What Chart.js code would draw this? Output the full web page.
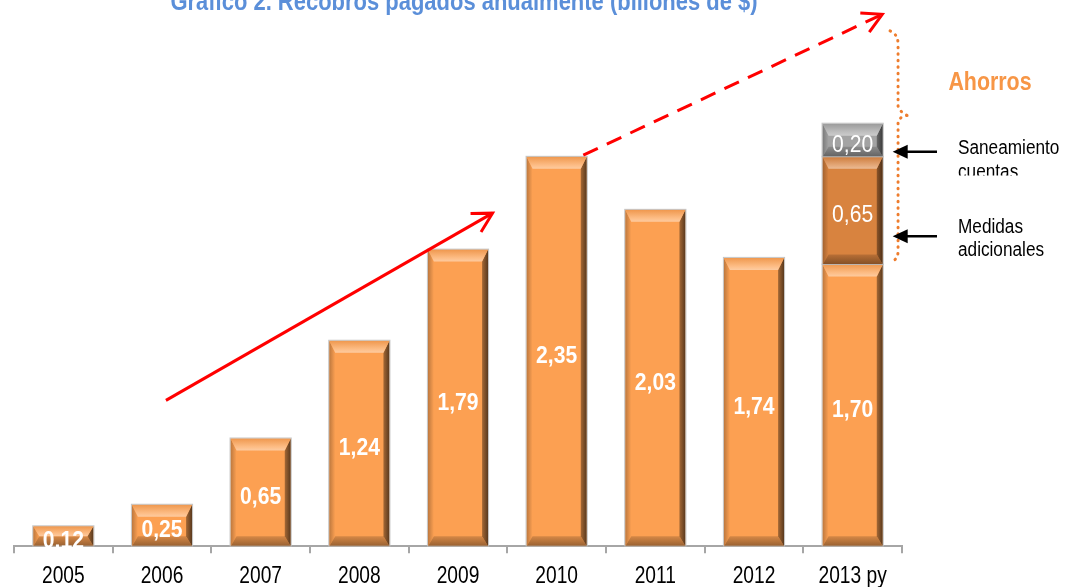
<!DOCTYPE html>
<html>
<head>
<meta charset="utf-8">
<script src="https://cdn.jsdelivr.net/npm/chart.js@4/dist/chart.umd.min.js"></script>
<style>
  body { margin: 0; overflow: hidden; background: #fff; }
</style>
</head>
<body>
<canvas id="myChart" width="1071" height="600"></canvas>
<script>
var years = ['2005', '2006', '2007', '2008', '2009', '2010', '2011', '2012', '2013 py'];
var recobros = [0.12, 0.25, 0.65, 1.24, 1.79, 2.35, 2.03, 1.74, 1.70];
var medidas = [null, null, null, null, null, null, null, null, 0.65];
var saneamiento = [null, null, null, null, null, null, null, null, 0.20];

var title = 'Gráfico 2. Recobros pagados anualmente (billones de $)';
var family = "'Liberation Sans', Arial, sans-serif";

function shade(hex, f) {
  var n = parseInt(hex.slice(1), 16);
  var r = n >> 16, g = (n >> 8) & 255, b = n & 255;
  var t = f < 0 ? 0 : 255, p = Math.abs(f);
  r = Math.round(r + (t - r) * p);
  g = Math.round(g + (t - g) * p);
  b = Math.round(b + (t - b) * p);
  return 'rgb(' + r + ',' + g + ',' + b + ')';
}

function fmt(v) {
  return v.toFixed(2).replace('.', ',');
}

// no narrow font installed, so squeeze the text horizontally
function narrowText(ctx, text, x, y, font, color, align, sx) {
  ctx.save();
  ctx.font = font;
  ctx.fillStyle = color;
  ctx.textAlign = align;
  ctx.textBaseline = 'alphabetic';
  ctx.translate(x, y);
  ctx.scale(sx, 1);
  ctx.fillText(text, 0, 0);
  ctx.restore();
}

function poly(ctx, pts, fill) {
  ctx.beginPath();
  ctx.moveTo(pts[0][0], pts[0][1]);
  for (var i = 1; i < pts.length; i++) ctx.lineTo(pts[i][0], pts[i][1]);
  ctx.closePath();
  ctx.fillStyle = fill;
  ctx.fill();
}

// open V arrow for the red trend arrows
function arrow(ctx, x1, y1, x2, y2, color, dash) {
  var a = Math.atan2(y2 - y1, x2 - x1), len = 22, spread = 0.5;
  ctx.save();
  ctx.strokeStyle = color;
  ctx.lineWidth = 3;
  ctx.setLineDash(dash || []);
  ctx.beginPath();
  ctx.moveTo(x1, y1);
  ctx.lineTo(x2, y2);
  ctx.stroke();
  ctx.setLineDash([]);
  ctx.beginPath();
  ctx.moveTo(x2 - len * Math.cos(a - spread), y2 - len * Math.sin(a - spread));
  ctx.lineTo(x2, y2);
  ctx.lineTo(x2 - len * Math.cos(a + spread), y2 - len * Math.sin(a + spread));
  ctx.stroke();
  ctx.restore();
}

// black pointer with filled head pointing left
function pointer(ctx, x1, x2, y) {
  ctx.save();
  ctx.strokeStyle = '#000';
  ctx.fillStyle = '#000';
  ctx.lineWidth = 2.5;
  ctx.beginPath();
  ctx.moveTo(x1, y);
  ctx.lineTo(x2 + 12, y);
  ctx.stroke();
  ctx.beginPath();
  ctx.moveTo(x2, y);
  ctx.lineTo(x2 + 15, y - 7);
  ctx.lineTo(x2 + 15, y + 7);
  ctx.closePath();
  ctx.fill();
  ctx.restore();
}

var barColors = ['#FCA052', '#D8833F', '#A3A3A3'];

var bevelPlugin = {
  id: 'bevel',
  afterDatasetsDraw: function(chart) {
    var ctx = chart.ctx;
    chart.data.datasets.forEach(function(ds, di) {
      var meta = chart.getDatasetMeta(di);
      meta.data.forEach(function(bar, i) {
        if (ds.data[i] == null) return;
        var c = barColors[di];
        var l = bar.x - bar.width / 2, r = bar.x + bar.width / 2;
        var t = Math.min(bar.y, bar.base), bot = Math.max(bar.y, bar.base);
        var h = bot - t;
        var bt = Math.min(12, h / 2), bb = Math.min(10, h / 2), bs = 6;
        ctx.save();
        // left
        var gl = ctx.createLinearGradient(l, 0, l + bs, 0);
        gl.addColorStop(0, shade(c, -0.25));
        gl.addColorStop(1, c);
        poly(ctx, [[l, t], [l + bs, t + bt], [l + bs, bot - bb], [l, bot]], gl);
        // bottom
        var gb = ctx.createLinearGradient(0, bot - bb, 0, bot);
        gb.addColorStop(0, shade(c, -0.15));
        gb.addColorStop(1, shade(c, -0.4));
        poly(ctx, [[l, bot], [l + bs, bot - bb], [r - bs, bot - bb], [r, bot]], gb);
        // right
        var gr = ctx.createLinearGradient(r - bs, 0, r, 0);
        gr.addColorStop(0, shade(c, -0.35));
        gr.addColorStop(1, shade(c, -0.65));
        poly(ctx, [[r, t], [r, bot], [r - bs, bot - bb], [r - bs, t + bt]], gr);
        // top
        var gt = ctx.createLinearGradient(0, t, 0, t + bt);
        gt.addColorStop(0, shade(c, -0.05));
        gt.addColorStop(0.7, shade(c, 0.3));
        gt.addColorStop(1, shade(c, 0.45));
        poly(ctx, [[l, t], [r, t], [r - bs, t + bt], [l + bs, t + bt]], gt);
        ctx.strokeStyle = 'rgba(190,190,190,0.9)';
        ctx.lineWidth = 1;
        ctx.strokeRect(l - 0.5, t - 0.5, r - l + 1, h + 0.5);
        ctx.restore();

        // value label
        var font = (di === 0 ? 'bold ' : '') + '24px ' + family;
        narrowText(ctx, fmt(ds.data[i]), bar.x, (t + bot) / 2 + 3 + 8.6, font, '#fff', 'center', 0.88);
      });
    });
  }
};

var notesPlugin = {
  id: 'notes',
  afterDraw: function(chart) {
    var ctx = chart.ctx, xs = chart.scales.x, ys = chart.scales.y;
    var area = chart.chartArea;
    function px(v) { return xs.getPixelForValue(v); }
    function py(v) { return ys.getPixelForValue(v); }

    // category labels
    chart.data.labels.forEach(function(lab, i) {
      narrowText(ctx, lab, xs.getPixelForTick(i), area.bottom + 37, '24px ' + family, '#000', 'center', 0.8);
    });

    // title, cut at the top like the original
    narrowText(ctx, title, 464, 10, 'bold 26px ' + family, '#5B8FD9', 'center', 0.845);

    // trend arrows
    arrow(ctx, px(1.04), py(0.88), px(4.35), py(2.01), '#FF0000');
    arrow(ctx, px(5.27), py(2.36), px(8.3), py(3.21), '#FF0000', [16, 10]);

    // dotted brace
    var bx = px(8.46);
    ctx.save();
    ctx.strokeStyle = '#EE7D2E';
    ctx.lineWidth = 3;
    ctx.lineCap = 'round';
    ctx.setLineDash([0.5, 6]);
    ctx.beginPath();
    ctx.moveTo(bx - 8, py(3.11));
    ctx.quadraticCurveTo(bx, py(3.09), bx, py(3.03));
    ctx.lineTo(bx, py(2.66));
    ctx.quadraticCurveTo(bx, py(2.63), bx + 9, py(2.6));
    ctx.moveTo(bx + 9, py(2.6));
    ctx.quadraticCurveTo(bx, py(2.59), bx, py(2.55));
    ctx.lineTo(bx, py(1.78));
    ctx.quadraticCurveTo(bx, py(1.74), bx - 5, py(1.72));
    ctx.stroke();
    ctx.restore();

    narrowText(ctx, 'Ahorros', area.right + 88, py(2.755), 'bold 25px ' + family, '#F79646', 'center', 0.855);

    // pointers
    var barRight = px(8) + 30;
    pointer(ctx, area.right + 35, barRight + 10, py(2.38));
    pointer(ctx, area.right + 35, barRight + 10, py(1.87));

    var tf = '20px ' + family;
    narrowText(ctx, 'Saneamiento', area.right + 56, py(2.37), tf, '#000', 'left', 0.86);
    ctx.save();
    ctx.beginPath();
    ctx.rect(area.right + 50, py(2.34), 150, py(2.237) - py(2.34));
    ctx.clip();
    narrowText(ctx, 'cuentas', area.right + 56, py(2.225), tf, '#000', 'left', 0.86);
    ctx.restore();
    narrowText(ctx, 'Medidas', area.right + 56, py(1.89), tf, '#000', 'left', 0.86);
    narrowText(ctx, 'adicionales', area.right + 56, py(1.75), tf, '#000', 'left', 0.86);
  }
};

var ctx = document.getElementById('myChart').getContext('2d');
var chart = new Chart(ctx, {
  type: 'bar',
  data: {
    labels: years,
    datasets: [
      { label: 'Recobros', data: recobros, backgroundColor: barColors[0] },
      { label: 'Medidas adicionales', data: medidas, backgroundColor: barColors[1] },
      { label: 'Saneamiento cuentas', data: saneamiento, backgroundColor: barColors[2] }
    ]
  },
  options: {
    responsive: false,
    animation: false,
    events: [],
    layout: { padding: { top: 16, left: 14, right: 169, bottom: 6 } },
    datasets: { bar: { categoryPercentage: 1, barPercentage: 0.61 } },
    plugins: { legend: { display: false }, tooltip: { enabled: false } },
    scales: {
      x: {
        stacked: true,
        border: { display: true, color: '#A6A6A6', width: 2 },
        grid: { display: true, drawOnChartArea: false, drawTicks: true, tickLength: 7, color: '#A6A6A6', lineWidth: 2 },
        // labels are drawn squeezed by the notes plugin
        ticks: { color: 'rgba(0,0,0,0)', padding: 6, font: { family: family, size: 24 } }
      },
      y: { stacked: true, display: false, min: 0, max: 3.2 }
    }
  },
  plugins: [bevelPlugin, notesPlugin]
});
</script>
</body>
</html>
